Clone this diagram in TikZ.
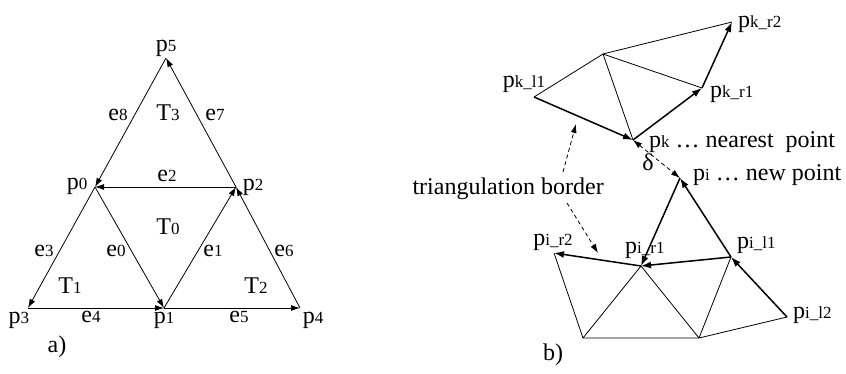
\documentclass[tikz,border=0pt]{standalone}
\usepackage{fontspec}
\setmainfont{Liberation Serif}
\usetikzlibrary{arrows.meta}
\newcommand{\sbx}[1]{{\fontsize{17}{17}\selectfont #1}}
\begin{document}
\begin{tikzpicture}[x=1pt,y=-1pt,
  lbl/.style={font=\fontsize{24}{24}\selectfont, inner sep=0pt, anchor=base},
  lblw/.style={lbl, anchor=base west},
  thinedge/.style={line width=0.8pt},
  thinarrow/.style={line width=0.8pt, -{Latex[length=9pt,width=6pt]}},
  thickarrow/.style={line width=1.5pt, -{Latex[length=10pt,width=7pt]}},
  dasharrow/.style={line width=0.8pt, dash pattern=on 4pt off 3pt, -{Latex[length=9pt,width=6pt]}}
]
\useasboundingbox (0,0) rectangle (846,374);
% ---------- a) ----------
\coordinate (p5) at (166,58);
\coordinate (p0) at (95,187);
\coordinate (p2) at (236,187);
\coordinate (p3) at (28,308);
\coordinate (p1) at (164,308);
\coordinate (p4) at (300,308);
\draw[thinarrow] (p2) -- (p5);
\draw[thinarrow] (p5) -- (p0);
\draw[thinarrow] (p2) -- (p0);
\draw[thinarrow] (p0) -- (p1);
\draw[thinarrow] (p1) -- (p2);
\draw[thinarrow] (p0) -- (p3);
\draw[thinarrow] (p3) -- (p1);
\draw[thinarrow] (p1) -- (p4);
\draw[thinarrow] (p4) -- (p2);
\node[lbl] (lp5) at (166,52) {p\sbx{5}};
\node[lbl] (lp0) at (77,190) {p\sbx{0}};
\node[lbl] (lp2) at (253,191) {p\sbx{2}};
\node[lbl] (lp3) at (19,323) {p\sbx{3}};
\node[lbl] (lp1) at (164,323) {p\sbx{1}};
\node[lbl] (lp4) at (313,323) {p\sbx{4}};
\node[lbl] (le8) at (118,121) {e\sbx{8}};
\node[lbl] (lT3) at (168,121) {T\sbx{3}};
\node[lbl] (le7) at (215,121) {e\sbx{7}};
\node[lbl] (le2) at (167,182) {e\sbx{2}};
\node[lbl] (lT0) at (168,235) {T\sbx{0}};
\node[lbl] (le3) at (44,257) {e\sbx{3}};
\node[lbl] (le0) at (116,257) {e\sbx{0}};
\node[lbl] (le1) at (213,257) {e\sbx{1}};
\node[lbl] (le6) at (284,257) {e\sbx{6}};
\node[lbl] (lT1) at (70,293) {T\sbx{1}};
\node[lbl] (lT2) at (256,293) {T\sbx{2}};
\node[lbl] (le4) at (91,322) {e\sbx{4}};
\node[lbl] (le5) at (239,322) {e\sbx{5}};
\node[lbl] (la) at (57,352) {a)};
% ---------- b) ----------
\coordinate (A) at (603,54);
\coordinate (kl1) at (534,97);
\coordinate (kr2) at (732,22);
\coordinate (kr1) at (702,88);
\coordinate (pk) at (633,140);
\coordinate (pi) at (680,178);
\coordinate (ir2) at (554,253);
\coordinate (ir1) at (641,266);
\coordinate (il1) at (731,257);
\coordinate (il2) at (787,317);
\coordinate (B1) at (583,338);
\coordinate (B2) at (699,338);
\draw[thinedge] (A) -- (kr2);
\draw[thinedge] (A) -- (kl1);
\draw[thinedge] (A) -- (kr1);
\draw[thinedge] (A) -- (pk);
\draw[thickarrow] (kl1) -- (pk);
\draw[thickarrow] (pk) -- (kr1);
\draw[thickarrow] (kr1) -- (kr2);
\draw[dasharrow, {Latex[length=9pt,width=6pt]}-{Latex[length=9pt,width=6pt]}] (pk) -- (pi);
\draw[thinedge] (ir2) -- (B1) -- (B2);
\draw[thinedge] (B1) -- (ir1) -- (B2);
\draw[thinedge] (B2) -- (il1);
\draw[thinedge] (B2) -- (il2);
\draw[thickarrow] (il2) -- (il1);
\draw[thickarrow] (il1) -- (pi);
\draw[thickarrow] (pi) -- (ir1);
\draw[thickarrow] (il1) -- (ir1);
\draw[thickarrow] (ir1) -- (ir2);
\node[lbl] (lkl1) at (524,88) {p\sbx{k\_l1}};
\node[lblw] (lkr2) at (738,28) {p\sbx{k\_r2}};
\node[lblw] (lkr1) at (710,98) {p\sbx{k\_r1}};
\node[lblw] (lpk) at (649,148) {p\sbx{k} \ldots\ nearest\hspace{12pt}point};
\node[lbl, anchor=center] (ldelta) at (648,162) {δ};
\node[lblw] (lpi) at (693,181) {p\sbx{i} \ldots\ new point};
\node[lbl, anchor=base east] (ltb) at (604,195) {triangulation border};
\coordinate (tbu0) at (563,172);
\coordinate (tbu1) at (576,124);
\coordinate (tbd0) at (567,203);
\coordinate (tbd1) at (598,253);
\draw[dasharrow] (tbu0) -- (tbu1);
\draw[dasharrow] (tbd0) -- (tbd1);
\node[lbl] (lir2) at (553,246) {p\sbx{i\_r2}};
\node[lblw] (lir1) at (625,254) {p\sbx{i\_r1}};
\node[lblw] (lil1) at (737,248) {p\sbx{i\_l1}};
\node[lblw] (lil2) at (793,318) {p\sbx{i\_l2}};
\node[lbl] (lb) at (553,360) {b)};
\end{tikzpicture}
\end{document}
